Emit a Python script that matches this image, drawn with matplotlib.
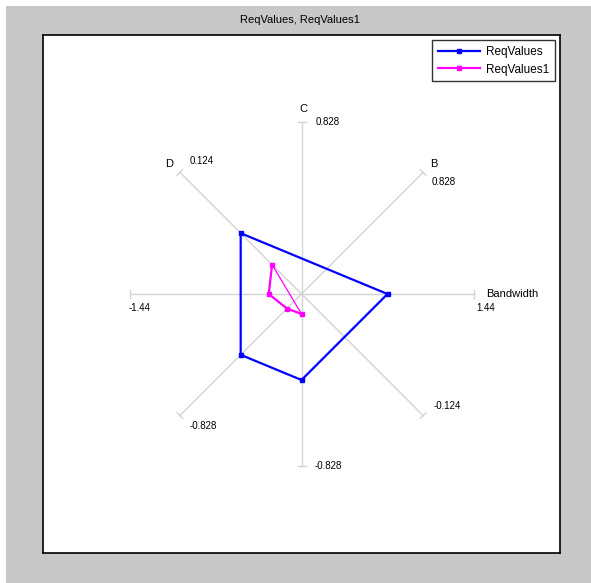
import numpy as np
import matplotlib
matplotlib.use("Agg")
import matplotlib.pyplot as plt
from matplotlib.patches import Rectangle

plt.rcParams['font.family'] = ['Liberation Sans', 'DejaVu Sans']

# radar axes
axis_names = ["Bandwidth", "B", "C", "D"]
axis_angles = [0, 45, 90, 135]
axis_max = [1.44, 0.828, 0.828, 0.124]
axis_max_labels = ["1.44", "0.828", "0.828", "0.124"]
axis_min_labels = ["-1.44", "-0.828", "-0.828", "-0.124"]

# series
series_names = ["ReqValues", "ReqValues1"]
req_values = [0.72, -0.414, -0.414, 0.062]
req_values1 = [-0.274, -0.099, -0.096, 0.030]
series_colors = ["#0000FF", "#FF00FF"]

W, H = 591, 583
R = 172  # spoke length in pixels

fig = plt.figure(figsize=(W / 100, H / 100), dpi=100, facecolor="white")
fig.patches.append(Rectangle((6 / W, 0), 1, 1 - 6 / H, transform=fig.transFigure,
                             facecolor="#C8C8C8", edgecolor="none", zorder=-10))

left, top, right, bottom = 43, 35, 560, 553
ax = fig.add_axes([left / W, 1 - bottom / H, (right - left) / W, (bottom - top) / H])
ax.set_zorder(5)
ax.set_facecolor("white")
cx = (right - left) / 2
cy = (bottom - top) / 2
ax.set_xlim(-cx, cx)
ax.set_ylim(-cy, cy)
ax.set_xticks([])
ax.set_yticks([])
for s in ax.spines.values():
    s.set_color("black")
    s.set_linewidth(1.2)

fig.text(0.508, 1 - 20 / H, "ReqValues, ReqValues1", ha="center", va="center", fontsize=8)

grid_col = "#D4D4D4"
max_offsets = [(12, -14, "center"), (9, -10, "left"), (14, 0, "left"), (10, 11, "left")]
min_offsets = [(10, -14, "center"), (10, -10, "left"), (13, 0, "left"), (10, 10, "left")]
name_offsets = [(13, 0, "left"), (11, 8, "center"), (2, 13, "center"), (-11, 8, "center")]

for name, ang, lmax, lmin, mo, no, po in zip(axis_names, axis_angles, axis_max_labels,
                                             axis_min_labels, max_offsets, min_offsets, name_offsets):
    a = np.deg2rad(ang)
    dx, dy = np.cos(a), np.sin(a)
    ax.plot([-R * dx, R * dx], [-R * dy, R * dy], color=grid_col, lw=1, zorder=1)
    for sgn in (1, -1):
        ex, ey = sgn * R * dx, sgn * R * dy
        ax.plot([ex - 4 * dy, ex + 4 * dy], [ey + 4 * dx, ey - 4 * dx], color=grid_col, lw=1, zorder=1)
    ax.annotate(lmax, (R * dx, R * dy), xytext=mo[:2], textcoords="offset pixels",
                ha=mo[2], va="center", fontsize=7)
    ax.annotate(lmin, (-R * dx, -R * dy), xytext=no[:2], textcoords="offset pixels",
                ha=no[2], va="center", fontsize=7)
    ax.annotate(name, (R * dx, R * dy), xytext=po[:2], textcoords="offset pixels",
                ha=po[2], va="center", fontsize=8)

for vals, col, lab in zip([req_values, req_values1], series_colors, series_names):
    pts = []
    for v, ang, m in zip(vals, axis_angles, axis_max):
        r = v / m * R
        a = np.deg2rad(ang)
        x, y = r * np.cos(a), r * np.sin(a)
        pts.append((np.arctan2(y, x) % (2 * np.pi), x, y))
    pts.sort()
    xs = [p[1] for p in pts]
    ys = [p[2] for p in pts]
    ax.plot(xs, ys, color=col, lw=1.6, marker="s", ms=3.2, zorder=3, label=lab)
    ax.plot([xs[-1], xs[0]], [ys[-1], ys[0]], color=col, lw=1.6 if col == "#0000FF" else 0.9, zorder=3)

leg = ax.legend(loc="upper right", fontsize=8.5, frameon=True, fancybox=False,
                handlelength=3.5, borderaxespad=0.45, borderpad=0.5, labelspacing=0.45,
                handletextpad=0.5)
leg.get_frame().set_edgecolor("black")
leg.get_frame().set_linewidth(1)

fig.savefig("out.png", dpi=100, facecolor=fig.get_facecolor())
